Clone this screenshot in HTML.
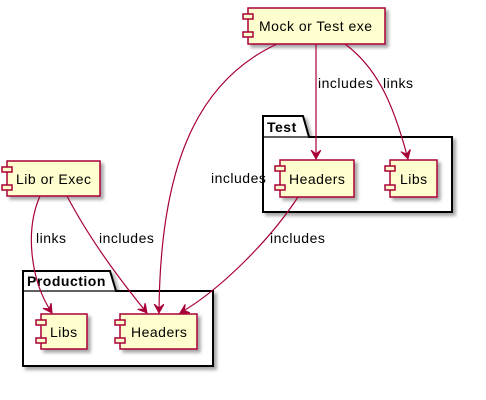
<!DOCTYPE html>
<html><head><style>body{margin:0;background:#fff}svg{display:block}text{font-family:"Liberation Sans",sans-serif;font-size:14px;letter-spacing:0.5px;fill:#000}</style></head><body>
<svg width="486" height="400" viewBox="0 0 486 400">
<defs>
<filter id="sh" x="-10%" y="-10%" width="130%" height="140%"><feDropShadow dx="3" dy="3" stdDeviation="1.5" flood-color="#000" flood-opacity="0.35"/></filter>
<marker id="ar" markerWidth="12" markerHeight="12" refX="9" refY="5" orient="auto" markerUnits="userSpaceOnUse"><path d="M0,0 L9,5 L0,10 L4,5 Z" fill="#A80036" stroke="#A80036"/></marker>
</defs>
<g filter="url(#sh)" fill="#fff" stroke="#000" stroke-width="2">
<path d="M23,291 L23,271 L110,271 L116,291 L213,291 L213,366 L23,366 Z"/>
<path d="M263,137 L263,116 L303,116 L309,137 L452,137 L452,212 L263,212 Z"/>
</g>
<g stroke="#000" stroke-width="1.2"><line x1="23" y1="291" x2="116" y2="291"/><line x1="263" y1="137" x2="309" y2="137"/></g>
<text x="27" y="286" font-weight="bold">Production</text>
<text x="267" y="132" font-weight="bold">Test</text>
<g fill="#FEFECE" stroke="#A80036" stroke-width="1.5">
<g filter="url(#sh)">
<rect x="248" y="8" width="137" height="36"/>
<rect x="7" y="161" width="93" height="35"/>
<rect x="41" y="314" width="46" height="35"/>
<rect x="120" y="314" width="77" height="35"/>
<rect x="280" y="160" width="74" height="37"/>
<rect x="390" y="160" width="47" height="37"/>
</g>
<rect x="243" y="14" width="10" height="5"/><rect x="243" y="32" width="10" height="5"/>
<rect x="2" y="167" width="10" height="5"/><rect x="2" y="185" width="10" height="5"/>
<rect x="36" y="320" width="10" height="5"/><rect x="36" y="338" width="10" height="5"/>
<rect x="115" y="320" width="10" height="5"/><rect x="115" y="338" width="10" height="5"/>
<rect x="275" y="166" width="10" height="5"/><rect x="275" y="185" width="10" height="5"/>
<rect x="385" y="166" width="10" height="5"/><rect x="385" y="185" width="10" height="5"/>
</g>
<text x="259" y="31">Mock or Test exe</text>
<text x="16" y="184">Lib or Exec</text>
<text x="50" y="337">Libs</text>
<text x="131" y="337">Headers</text>
<text x="289" y="184">Headers</text>
<text x="400" y="184">Libs</text>
<g fill="none" stroke="#A80036" stroke-width="1.2" marker-end="url(#ar)">
<path d="M277,44 C200,80 160,160 159,313"/>
<path d="M316,44 L316,159"/>
<path d="M345,44 C380,70 395,110 408,159"/>
<path d="M40,196 C25,230 30,280 52,313"/>
<path d="M67,196 C90,240 120,280 147,313"/>
<path d="M298,197 C270,240 220,290 180,313"/>
</g>
<text x="211" y="183">includes</text>
<text x="318" y="88">includes</text>
<text x="383" y="88">links</text>
<text x="36" y="243">links</text>
<text x="99" y="243">includes</text>
<text x="270" y="243">includes</text>
</svg>
</body></html>
